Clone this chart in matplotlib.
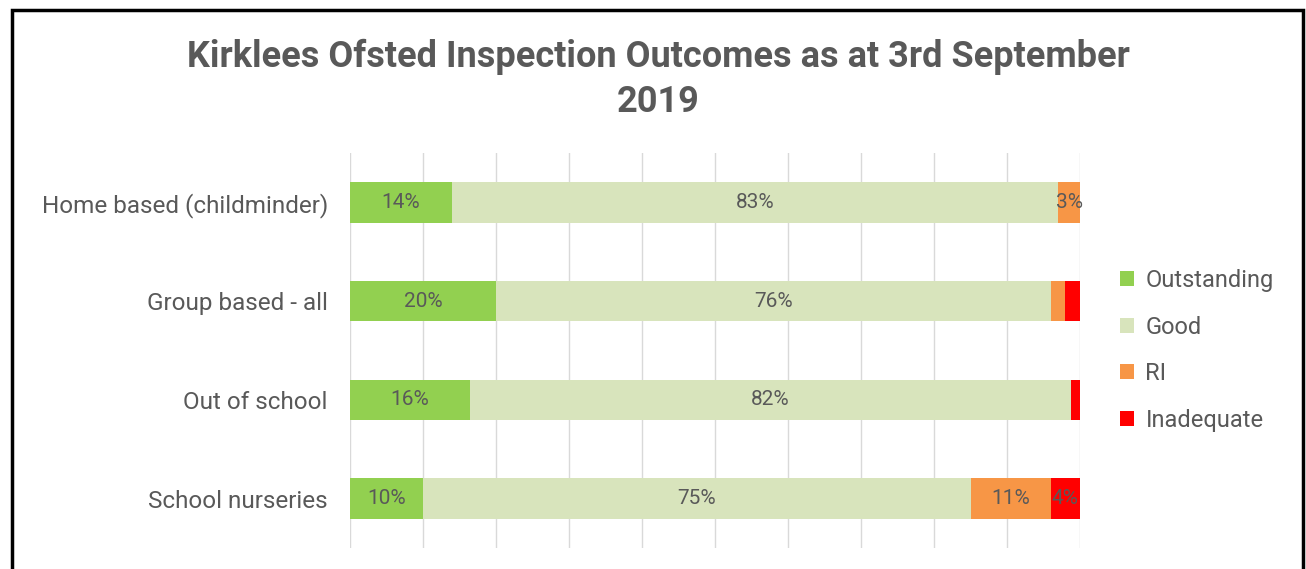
import numpy as np
import matplotlib.pyplot as plt
from matplotlib.patches import Rectangle

plt.rcParams['font.family'] = ['Roboto', 'DejaVu Sans']

categories = ['Home based (childminder)', 'Group based - all', 'Out of school', 'School nurseries']
outstanding = [14, 20, 16.4, 10]
good = [83, 76, 82.4, 75]
ri = [3, 2, 0, 11]
inadequate = [0, 2, 1.2, 4]

series = ['Outstanding', 'Good', 'RI', 'Inadequate']
colors = ['#92D050', '#D8E4BC', '#F79646', '#FF0000']
grey = '#595959'

fig = plt.figure(figsize=(13.06, 5.69), dpi=100)
ax = fig.add_axes([350/1306, 1-548/569, 730/1306, 395/569])

y = np.arange(len(categories))
left = np.zeros(len(categories))
for name, vals, col in zip(series, [outstanding, good, ri, inadequate], colors):
    vals = np.array(vals, dtype=float)
    bars = ax.barh(y, vals, left=left, height=0.41, color=col, label=name)
    for b, v in zip(bars, vals):
        if v >= 3:
            ax.text(b.get_x() + b.get_width()/2, b.get_y() + b.get_height()/2,
                    f'{v:.0f}%', ha='center', va='center', color=grey, fontsize=15)
    left += vals

ax.set_xlim(0, 100)
ax.set_ylim(len(categories) - 0.5, -0.5)
ax.set_xticks(np.arange(0, 101, 10))
ax.xaxis.grid(True, color='#D9D9D9', linewidth=1)
ax.set_axisbelow(True)
ax.tick_params(axis='x', length=0, labelbottom=False)
ax.tick_params(axis='y', length=0, pad=16, labelcolor=grey)
ax.set_yticks(y)
ax.set_yticklabels(categories, fontsize=17.5)
for s in ax.spines.values():
    s.set_visible(False)

ax.legend(loc='center left', bbox_to_anchor=(1.025, 0.5), frameon=False,
          fontsize=17, labelcolor=grey, handlelength=0.6, handleheight=0.6,
          handletextpad=0.5, labelspacing=1.0)

fig.text(658/1306, 1-57/569, 'Kirklees Ofsted Inspection Outcomes as at 3rd September',
         ha='center', va='center', fontsize=26, fontweight='bold', color=grey)
fig.text(658/1306, 1-102/569, '2019', ha='center', va='center',
         fontsize=26, fontweight='bold', color=grey)

fig.patches.append(Rectangle((11.5/1306, -0.1), 1291/1306, 1.1 - 10/569,
                             transform=fig.transFigure, fill=False,
                             edgecolor='black', linewidth=2.5))

fig.savefig('out.png', dpi=100)
